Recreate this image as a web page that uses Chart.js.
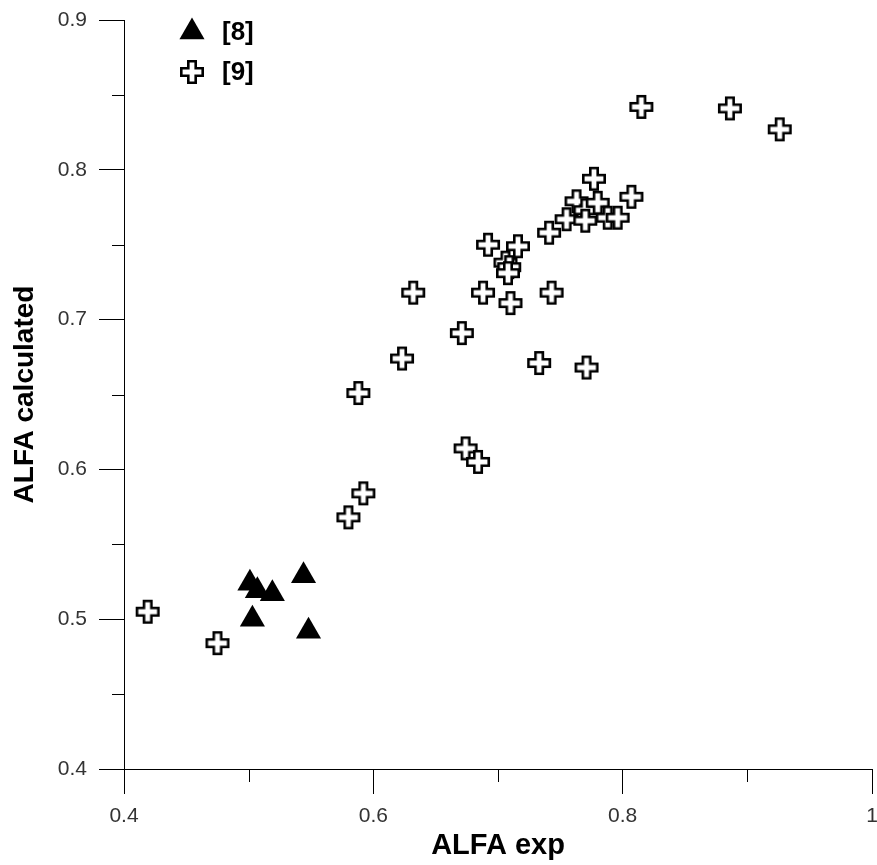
<!DOCTYPE html>
<html>
<head>
<meta charset="utf-8">
<script src="https://cdn.jsdelivr.net/npm/chart.js@4/dist/chart.umd.min.js"></script>
<style>
  html, body { margin: 0; padding: 0; background: #fff; }
  #wrap { width: 877px; height: 865px; }
</style>
</head>
<body>
<div id="wrap"><canvas id="chart" width="877" height="865"></canvas></div>
<script>
// series [8] - filled triangles
const ref8X = [0.501, 0.507, 0.519, 0.544, 0.503, 0.548];
const ref8Y = [0.524, 0.519, 0.517, 0.529, 0.500, 0.492];

// series [9] - open crosses
const ref9X = [0.419, 0.475, 0.580, 0.592, 0.588, 0.623, 0.632, 0.671, 0.674, 0.684,
               0.688, 0.692, 0.706, 0.709, 0.708, 0.710, 0.716, 0.733, 0.743, 0.741,
               0.755, 0.763, 0.770, 0.770, 0.771, 0.777, 0.780, 0.788, 0.796, 0.807,
               0.815, 0.886, 0.926];
const ref9Y = [0.505, 0.484, 0.568, 0.584, 0.651, 0.674, 0.718, 0.691, 0.614, 0.605,
               0.718, 0.750, 0.738, 0.735, 0.731, 0.711, 0.749, 0.671, 0.718, 0.758,
               0.767, 0.779, 0.773, 0.766, 0.668, 0.794, 0.778, 0.768, 0.768, 0.782,
               0.842, 0.841, 0.827];

const seriesLabels = ['[8]', '[9]'];
const xTitle = 'ALFA exp';
const yTitle = 'ALFA calculated';
const xMin = 0.4, xMax = 1.0, xStep = 0.1;
const yMin = 0.4, yMax = 0.9, yStep = 0.05;

const FONT = '"Liberation Sans", Arial, sans-serif';

// fat outlined cross used as point marker
function makeCross() {
  const size = 26, m = 13, lw = 2.6;
  const a = 5 - lw / 2, L = 12 - lw / 2;
  const c = document.createElement('canvas');
  c.width = size; c.height = size;
  const g = c.getContext('2d');
  g.beginPath();
  g.moveTo(m - a, m - L); g.lineTo(m + a, m - L); g.lineTo(m + a, m - a);
  g.lineTo(m + L, m - a); g.lineTo(m + L, m + a); g.lineTo(m + a, m + a);
  g.lineTo(m + a, m + L); g.lineTo(m - a, m + L); g.lineTo(m - a, m + a);
  g.lineTo(m - L, m + a); g.lineTo(m - L, m - a); g.lineTo(m - a, m - a);
  g.closePath();
  g.fillStyle = '#fff';
  g.fill();
  g.lineWidth = lw;
  g.lineJoin = 'miter';
  g.strokeStyle = '#000';
  g.stroke();
  return c;
}
const crossImg = makeCross();

function toPoints(xs, ys) {
  return xs.map((x, i) => ({ x: x, y: ys[i] }));
}

function isMajorX(v) { return Math.round(v * 10) % 2 === 0; }
function isMajorY(v) { return Math.round(v * 100) % 10 === 0; }

// short minor ticks + legend in the top left corner
const extras = {
  id: 'extras',
  afterDraw(chart) {
    const ctx = chart.ctx;
    const xs = chart.scales.x, ys = chart.scales.y;
    const area = chart.chartArea;
    ctx.save();
    ctx.strokeStyle = '#000';
    ctx.lineWidth = 1;
    ctx.beginPath();
    xs.ticks.forEach(t => {
      if (!isMajorX(t.value)) {
        const px = Math.round(xs.getPixelForValue(t.value)) + 0.5;
        ctx.moveTo(px, area.bottom);
        ctx.lineTo(px, area.bottom + 13);
      }
    });
    ys.ticks.forEach(t => {
      if (!isMajorY(t.value)) {
        const py = Math.round(ys.getPixelForValue(t.value)) + 0.5;
        ctx.moveTo(area.left, py);
        ctx.lineTo(area.left - 12, py);
      }
    });
    ctx.stroke();

    // legend
    const lx = area.left + 68, ly1 = area.top + 12, ly2 = area.top + 52;
    const r = 14.5;
    ctx.fillStyle = '#000';
    ctx.beginPath();
    ctx.moveTo(lx, ly1 - r);
    ctx.lineTo(lx + r * Math.sin(2 * Math.PI / 3), ly1 + r / 2);
    ctx.lineTo(lx - r * Math.sin(2 * Math.PI / 3), ly1 + r / 2);
    ctx.closePath();
    ctx.fill();
    ctx.drawImage(crossImg, lx - 13, ly2 - 13);
    ctx.font = 'bold 26px ' + FONT;
    ctx.textBaseline = 'middle';
    ctx.textAlign = 'left';
    ctx.fillText(chart.data.datasets[0].label, lx + 30, ly1 + 1);
    ctx.fillText(chart.data.datasets[1].label, lx + 30, ly2 + 1);
    ctx.restore();
  }
};

new Chart(document.getElementById('chart'), {
  type: 'scatter',
  data: {
    datasets: [
      {
        label: seriesLabels[0],
        data: toPoints(ref8X, ref8Y),
        pointStyle: 'triangle',
        pointRadius: 14.5,
        pointHoverRadius: 14.5,
        backgroundColor: '#000',
        borderColor: '#000',
        borderWidth: 0
      },
      {
        label: seriesLabels[1],
        data: toPoints(ref9X, ref9Y),
        pointStyle: crossImg,
        pointRadius: 13,
        pointHoverRadius: 13,
        backgroundColor: '#fff',
        borderColor: '#000'
      }
    ]
  },
  options: {
    responsive: false,
    animation: false,
    events: [],
    layout: { autoPadding: false, padding: { top: 20, right: 5, left: 0, bottom: 0 } },
    plugins: {
      legend: { display: false },
      tooltip: { enabled: false }
    },
    scales: {
      x: {
        type: 'linear',
        min: xMin, max: xMax,
        afterFit(scale) {
          scale.height = 96;
          scale.paddingRight = 0;
          scale.paddingLeft = 0;
        },
        ticks: {
          stepSize: xStep,
          autoSkip: false,
          maxRotation: 0,
          padding: 10,
          color: '#333',
          font: { family: FONT, size: 21 },
          callback: v => isMajorX(v) ? (Math.abs(v - 1) < 1e-6 ? '1' : v.toFixed(1)) : ''
        },
        grid: {
          display: true,
          drawOnChartArea: false,
          drawTicks: true,
          tickLength: 25,
          lineWidth: 1,
          tickColor: c => isMajorX(c.tick.value) ? '#000' : 'rgba(0,0,0,0)'
        },
        border: { display: true, color: '#000', width: 1 },
        title: {
          display: true,
          text: xTitle,
          color: '#000',
          font: { family: FONT, size: 29, weight: 'bold', lineHeight: 1.2 },
          padding: { top: 0, bottom: 2 }
        }
      },
      y: {
        type: 'linear',
        min: yMin, max: yMax,
        afterFit(scale) {
          scale.width = 124;
          scale.paddingTop = 0;
          scale.paddingBottom = 0;
        },
        ticks: {
          stepSize: yStep,
          autoSkip: false,
          padding: 12,
          color: '#333',
          font: { family: FONT, size: 21 },
          callback: v => isMajorY(v) ? v.toFixed(1) : ''
        },
        grid: {
          display: true,
          drawOnChartArea: false,
          drawTicks: true,
          tickLength: 25,
          lineWidth: 1,
          tickColor: c => isMajorY(c.tick.value) ? '#000' : 'rgba(0,0,0,0)'
        },
        border: { display: true, color: '#000', width: 1 },
        title: {
          display: true,
          text: yTitle,
          color: '#000',
          font: { family: FONT, size: 28, weight: 'bold', lineHeight: 1.2 },
          padding: { top: 8, bottom: 0 }
        }
      }
    }
  },
  plugins: [extras]
});
</script>
</body>
</html>
